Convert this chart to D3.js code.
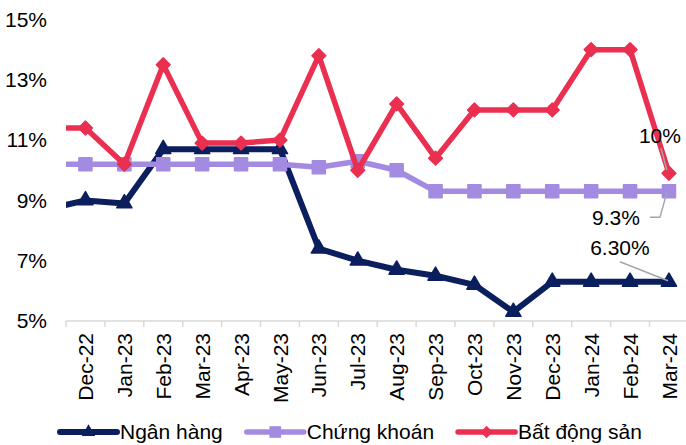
<!DOCTYPE html>
<html>
<head>
<meta charset="utf-8">
<script src="https://cdn.jsdelivr.net/npm/d3@7"></script>
<style>
  html, body { margin: 0; padding: 0; background: #fff; }
  svg { display: block; font-family: "Liberation Sans", Arial, sans-serif; }
</style>
</head>
<body>
<svg id="chart" width="686" height="445"></svg>
<script>
// Months shown on the axis
const months = ["Dec-22","Jan-23","Feb-23","Mar-23","Apr-23","May-23","Jun-23","Jul-23",
                "Aug-23","Sep-23","Oct-23","Nov-23","Dec-23","Jan-24","Feb-24","Mar-24"];

// Series values (%), one per month
const nganHang    = [9.0, 8.9, 10.7, 10.7, 10.7, 10.7, 7.4, 7.0, 6.7, 6.5, 6.2, 5.3, 6.3, 6.3, 6.3, 6.3];
const chungKhoan  = [10.2, 10.2, 10.2, 10.2, 10.2, 10.2, 10.1, 10.3, 10.0, 9.3, 9.3, 9.3, 9.3, 9.3, 9.3, 9.3];
const batDongSan  = [11.4, 10.2, 13.5, 10.9, 10.9, 11.0, 13.8, 10.0, 12.2, 10.4, 12.0, 12.0, 12.0, 14.0, 14.0, 9.9];

// Value of the month before the first one shown (line enters from the left edge)
const priorValues = { nganHang: 8.7, chungKhoan: 10.2, batDongSan: 11.4 };

const yTicks = [5, 7, 9, 11, 13, 15];

const seriesNames = ["Ngân hàng", "Chứng khoán", "Bất động sản"];

const svg = d3.select("#chart");
const W = 686, H = 445;
const left = 66, step = 38.9;
const FONT = 21;

const x = d3.scaleBand().domain(months).range([left, left + step * months.length]).paddingInner(0).paddingOuter(0);
const cx = m => x(m) + x.bandwidth() / 2;
const y = d3.scaleLinear().domain([5, 15]).range([321, 19.5]);

const series = [
  { key: "nganHang",   name: seriesNames[0], values: nganHang,   color: "#0b1f5e", width: 6,   symbol: d3.symbolTriangle, size: 100, rotate: 0 },
  { key: "chungKhoan", name: seriesNames[1], values: chungKhoan, color: "#a28be0", width: 5.5, symbol: d3.symbolSquare,   size: 170, rotate: 0 },
  { key: "batDongSan", name: seriesNames[2], values: batDongSan, color: "#ea2f50", width: 5.5, symbol: d3.symbolSquare,   size: 95,  rotate: 45 }
];

// Plot clip keeps the lead-in segment inside the axis
svg.append("defs").append("clipPath").attr("id", "plotClip")
  .append("rect").attr("x", left).attr("y", 0).attr("width", W - left).attr("height", H);

// Y tick labels (no axis line)
const yAxis = d3.axisLeft(y).tickValues(yTicks).tickSize(0).tickPadding(0).tickFormat(d => d + "%");
const yg = svg.append("g").attr("transform", "translate(47,0)").call(yAxis);
yg.select(".domain").remove();
yg.selectAll("text").attr("font-size", FONT).attr("fill", "#000")
  .attr("font-family", "'Liberation Sans', Arial, sans-serif");

// X axis: baseline and tick marks at band boundaries
const xg = svg.append("g");
xg.append("line")
  .attr("x1", left).attr("x2", W)
  .attr("y1", y(5)).attr("y2", y(5))
  .attr("stroke", "#d9d9d9").attr("stroke-width", 1.5);
xg.selectAll("line.tick").data(months).join("line").attr("class", "tick")
  .attr("x1", d => x(d)).attr("x2", d => x(d))
  .attr("y1", y(5)).attr("y2", y(5) + 6)
  .attr("stroke", "#d9d9d9").attr("stroke-width", 1.5);
xg.selectAll("text").data(months).join("text")
  .attr("transform", d => `translate(${cx(d)},${y(5) + 12}) rotate(-90)`)
  .attr("text-anchor", "end")
  .attr("dy", "0.36em")
  .attr("font-size", FONT)
  .attr("fill", "#000")
  .text(d => d);

// Lines and markers
const plot = svg.append("g").attr("clip-path", "url(#plotClip)");
const line = d3.line().x(d => d.x).y(d => y(d.v));

series.forEach(s => {
  const pts = months.map((m, i) => ({ x: cx(m), v: s.values[i] }));
  const lead = [{ x: cx(months[0]) - step, v: priorValues[s.key] }].concat(pts);
  plot.append("path")
    .attr("d", line(lead))
    .attr("fill", "none")
    .attr("stroke", s.color)
    .attr("stroke-width", s.width)
    .attr("stroke-linejoin", "round");
  const sym = d3.symbol().type(s.symbol).size(s.size);
  plot.selectAll(null).data(pts).join("path")
    .attr("d", sym)
    .attr("transform", d => `translate(${d.x},${y(d.v)}) rotate(${s.rotate})`)
    .attr("fill", s.color)
    .attr("stroke", s.color)
    .attr("stroke-width", 1.5)
    .attr("stroke-linejoin", "round");
});

// End-point value labels with leader lines
const last = months[months.length - 1];
const lastIdx = months.length - 1;
const endLabels = [
  { value: batDongSan[lastIdx], text: d3.format(".0f")(batDongSan[lastIdx]) + "%", dx: -9,  dy: -38,
    leader: [[1, 13], [7, 35]] },
  { value: chungKhoan[lastIdx], text: d3.format(".1f")(chungKhoan[lastIdx]) + "%", dx: -53, dy: 26,
    leader: [[34, 0], [44, 0], [51, -25]] },
  { value: nganHang[lastIdx],   text: d3.format(".2f")(nganHang[lastIdx]) + "%",   dx: -49, dy: -34,
    leader: [[0, 14], [48, 33]] }
];
const ann = svg.append("g");
endLabels.forEach(a => {
  const lx = cx(last) + a.dx, ly = y(a.value) + a.dy;
  ann.append("path")
    .attr("d", d3.line()(a.leader.map(p => [lx + p[0], ly + p[1]])))
    .attr("fill", "none")
    .attr("stroke", "#a6a6a6")
    .attr("stroke-width", 1.5);
  ann.append("text")
    .attr("x", lx).attr("y", ly)
    .attr("text-anchor", "middle")
    .attr("dy", "0.35em")
    .attr("font-size", FONT)
    .attr("fill", "#000")
    .text(a.text);
});

// Legend
const lg = svg.append("g");
let lx = 60;
const legY = 432;
series.forEach(s => {
  const g = lg.append("g");
  g.append("line")
    .attr("x1", lx).attr("x2", lx + 57)
    .attr("y1", legY).attr("y2", legY)
    .attr("stroke", s.color).attr("stroke-width", s.width).attr("stroke-linecap", "round");
  g.append("path")
    .attr("d", d3.symbol().type(s.symbol).size(s.size * 0.8))
    .attr("transform", `translate(${lx + 28.5},${legY}) rotate(${s.rotate})`)
    .attr("fill", s.color);
  const t = g.append("text")
    .attr("x", lx + 60).attr("y", legY)
    .attr("dy", "0.35em")
    .attr("font-size", FONT)
    .attr("fill", "#000")
    .text(s.name);
  lx = lx + 60 + t.node().getComputedTextLength() + 24;
});
</script>
</body>
</html>
